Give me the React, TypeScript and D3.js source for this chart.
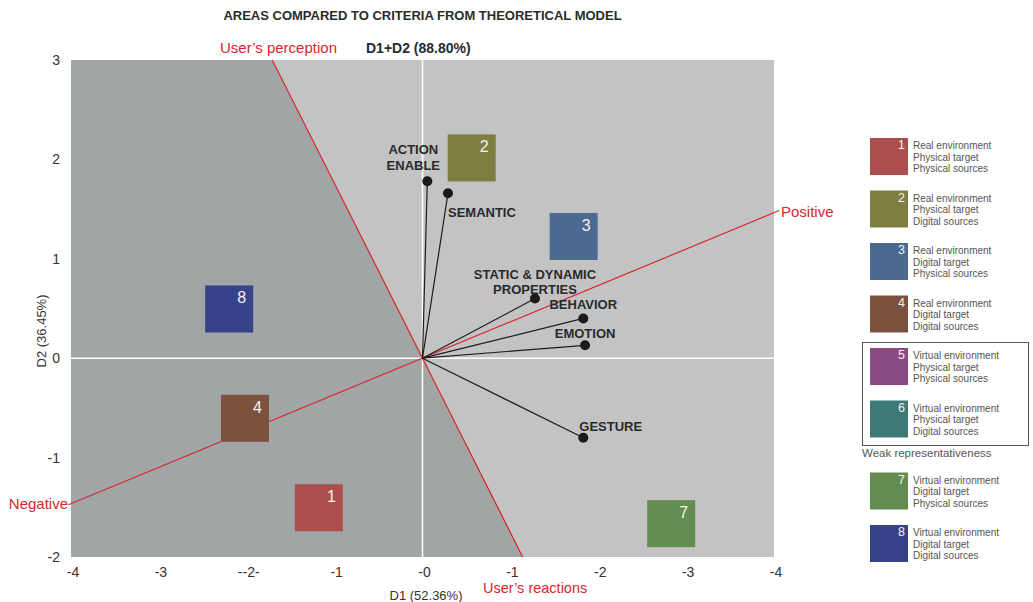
import React from "react";
import * as d3 from "d3";

// ---------- data ----------
const xTickValues = [-4, -3, -2, -1, 0, 1, 2, 3, 4];
const xTickLabels = ["-4", "-3", "--2-", "-1", "-0", "-1", "-2", "-3", "-4"];
const yTickValues = [3, 2, 1, 0, -1, -2];
const yTickLabels = ["3", "2", "1", "0", "-1", "-2"];

const areaIds = ["1", "2", "3", "4", "7", "8"];
const areaD1 = [-1.18, 0.56, 1.72, -2.02, 2.83, -2.2];
const areaD2 = [-1.51, 2.01, 1.22, -0.61, -1.67, 0.49];
const areaColors = ["#ad4e4e", "#7e7e41", "#4a6a90", "#7a523d", "#648b50", "#36428a"];

const criteriaNames = [["ACTION", "ENABLE"], ["SEMANTIC"], ["STATIC & DYNAMIC", "PROPERTIES"], ["BEHAVIOR"], ["EMOTION"], ["GESTURE"]];
const criteriaD1 = [0.055, 0.29, 1.28, 1.83, 1.85, 1.83];
const criteriaD2 = [1.78, 1.66, 0.6, 0.4, 0.13, -0.8];

const perceptionLine: [number, number][] = [[-1.71, 3], [1.14, -2]];
const polarityLine: [number, number][] = [[-4.03, -1.475], [4.06, 1.486]];

const legendIds = ["1", "2", "3", "4", "5", "6", "7", "8"];
const legendEnv = ["Real environment", "Real environment", "Real environment", "Real environment", "Virtual environment", "Virtual environment", "Virtual environment", "Virtual environment"];
const legendTarget = ["Physical target", "Physical target", "Digital target", "Digital target", "Physical target", "Physical target", "Digital target", "Digital target"];
const legendSources = ["Physical sources", "Digital sources", "Physical sources", "Digital sources", "Physical sources", "Digital sources", "Physical sources", "Digital sources"];
const legendColors = ["#ad4e4e", "#7e7e41", "#4a6a90", "#7a523d", "#8b4a84", "#3d7a77", "#648b50", "#36428a"];

// ---------- layout / style ----------
const W = 1033, H = 602;
const plot = { left: 71, right: 774, top: 60, bottom: 557 };
const FONT = "'Liberation Sans', Arial, sans-serif";
const RED = "#d9262e";
const labelLayout = [
  { dx: -14, dy: [-27, -11], anchor: "middle" },
  { dx: 0, dy: [24], anchor: "start" },
  { dx: 0, dy: [-20, -5], anchor: "middle" },
  { dx: 0, dy: [-9], anchor: "middle" },
  { dx: 0, dy: [-7], anchor: "middle" },
  { dx: -4, dy: [-7], anchor: "start" },
];

export default function App() {
  const x = d3.scaleLinear().domain([-4, 4]).range([plot.left, plot.right]);
  const y = d3.scaleLinear().domain([-2, 3]).range([plot.bottom, plot.top]);
  const line = d3.line<[number, number]>().x((d) => x(d[0])).y((d) => y(d[1]));

  const darkPoly: [number, number][] = [
    [-4, 3],
    perceptionLine[0],
    perceptionLine[1],
    [-4, -2],
  ];

  const sq = 48;
  const legendTop = (i: number) => 138 + i * 52.5 + (i >= 6 ? 19.5 : 0);

  return (
    <svg width={W} height={H} style={{ position: "absolute", left: 0, top: 0, background: "#fff" }} fontFamily={FONT}>
      {/* title */}
      <text x={x(0)} y={20} textAnchor="middle" fontWeight="bold" fontSize={13} fill="#2b2b2b">
        AREAS COMPARED TO CRITERIA FROM THEORETICAL MODEL
      </text>
      <text x={337} y={53} textAnchor="end" fontSize={15} fill={RED}>User’s perception</text>
      <text x={366} y={53} fontWeight="bold" fontSize={14} fill="#2b2b2b">D1+D2 (88.80%)</text>

      {/* background regions */}
      <rect x={plot.left} y={plot.top} width={plot.right - plot.left} height={plot.bottom - plot.top} fill="#c2c3c2" />
      <path d={line(darkPoly) + "Z"} fill="#a2a5a6" />

      {/* zero axes */}
      <line x1={x(0)} x2={x(0)} y1={plot.top} y2={plot.bottom} stroke="#fff" strokeWidth={1.5} />
      <line x1={plot.left} x2={plot.right} y1={y(0)} y2={y(0)} stroke="#fff" strokeWidth={1.5} />

      {/* red lines */}
      <path d={line(perceptionLine) || ""} stroke={RED} strokeWidth={1.2} fill="none" />
      <path d={line(polarityLine) || ""} stroke={RED} strokeWidth={1.2} fill="none" />

      {/* area squares */}
      {areaIds.map((id, i) => {
        const cx = x(areaD1[i]);
        const cy = y(areaD2[i]);
        return (
          <g key={id}>
            <rect x={cx - sq / 2} y={cy - sq / 2} width={sq} height={sq - 1} fill={areaColors[i]} />
            <text x={cx + sq / 2 - 7} y={cy - sq / 2 + 18} textAnchor="end" fontSize={16} fill="#f2f2f2">{id}</text>
          </g>
        );
      })}

      {/* criteria vectors */}
      {criteriaNames.map((name, i) => {
        const px = x(criteriaD1[i]);
        const py = y(criteriaD2[i]);
        const lay = labelLayout[i];
        return (
          <g key={i}>
            <line x1={x(0)} y1={y(0)} x2={px} y2={py} stroke="#1e1e1e" strokeWidth={1.2} />
            <circle cx={px} cy={py} r={5} fill="#1a1a1a" />
            {name.map((t, j) => (
              <text key={j} x={px + lay.dx} y={py + lay.dy[j]} textAnchor={lay.anchor} fontWeight="bold" fontSize={13} fill="#2a2a2a">{t}</text>
            ))}
          </g>
        );
      })}

      {/* axis ticks labels */}
      {xTickValues.map((v, i) => (
        <text key={"x" + i} x={x(v) + 2} y={577} textAnchor="middle" fontSize={14} fill="#333">{xTickLabels[i]}</text>
      ))}
      {yTickValues.map((v, i) => (
        <text key={"y" + i} x={60} y={y(v) + 5} textAnchor="end" fontSize={14} fill="#333">{yTickLabels[i]}</text>
      ))}
      <text x={426} y={600} textAnchor="middle" fontSize={13} fill="#333">D1 (52.36%)</text>
      <text transform={`translate(46,${331}) rotate(-90)`} textAnchor="middle" fontSize={13} fill="#333">D2 (36.45%)</text>
      <text x={483} y={593} fontSize={14.5} fill={RED}>User’s reactions</text>
      <text x={68} y={509} textAnchor="end" fontSize={15} fill={RED}>Negative</text>
      <text x={781} y={217} fontSize={15} fill={RED}>Positive</text>

      {/* legend */}
      <rect x={862.5} y={342.5} width={166} height={103} fill="none" stroke="#555" strokeWidth={1} />
      <text x={862} y={457} fontSize={11.5} fill="#555">Weak representativeness</text>
      {legendIds.map((id, i) => {
        const top = legendTop(i);
        return (
          <g key={"l" + id}>
            <rect x={870} y={top} width={38} height={37} fill={legendColors[i]} />
            <text x={905} y={top + 11} textAnchor="end" fontSize={12.5} fill="#f2f2f2">{id}</text>
            <text x={913} y={top + 11} fontSize={10} fill="#555">{legendEnv[i]}</text>
            <text x={913} y={top + 22.7} fontSize={10} fill="#555">{legendTarget[i]}</text>
            <text x={913} y={top + 34.4} fontSize={10} fill="#555">{legendSources[i]}</text>
          </g>
        );
      })}
    </svg>
  );
}
